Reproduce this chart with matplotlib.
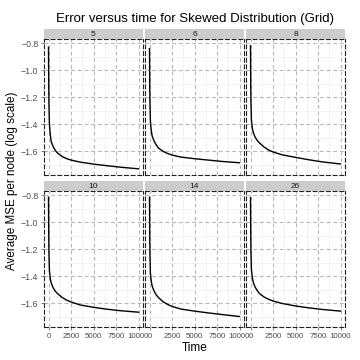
import matplotlib
matplotlib.use("Agg")
import matplotlib.pyplot as plt
import numpy as np

plt.rcParams["font.family"] = ["Liberation Sans", "DejaVu Sans"]

# facet labels (number of nodes) and sampled time points
facets = ["5", "6", "8", "10", "14", "26"]
times = [0, 25, 50, 100, 200, 300, 500, 750, 1000, 1500, 2000, 2500,
         3500, 5000, 6500, 8000, 10000]

# log10 of average MSE per node
mse_5 = [-0.83, -1.10, -1.25, -1.40, -1.48, -1.53, -1.565, -1.595, -1.615,
         -1.640, -1.656, -1.667, -1.682, -1.697, -1.709, -1.720, -1.732]
mse_6 = [-0.84, -1.10, -1.24, -1.38, -1.45, -1.49, -1.525, -1.555, -1.578,
         -1.602, -1.618, -1.630, -1.645, -1.657, -1.667, -1.677, -1.687]
mse_8 = [-0.82, -1.09, -1.24, -1.37, -1.43, -1.46, -1.495, -1.522, -1.540,
         -1.570, -1.592, -1.607, -1.628, -1.647, -1.665, -1.681, -1.696]
mse_10 = [-0.815, -1.08, -1.23, -1.36, -1.42, -1.45, -1.485, -1.512, -1.530,
          -1.558, -1.578, -1.592, -1.614, -1.632, -1.646, -1.657, -1.668]
mse_14 = [-0.815, -1.09, -1.24, -1.38, -1.44, -1.475, -1.51, -1.54, -1.56,
          -1.59, -1.61, -1.625, -1.645, -1.660, -1.673, -1.685, -1.700]
mse_26 = [-0.817, -1.07, -1.22, -1.35, -1.41, -1.445, -1.48, -1.508, -1.530,
          -1.555, -1.572, -1.585, -1.603, -1.622, -1.636, -1.648, -1.660]
series = [mse_5, mse_6, mse_8, mse_10, mse_14, mse_26]

x_ticks = [0, 2500, 5000, 7500, 10000]
y_ticks = [-0.8, -1.0, -1.2, -1.4, -1.6]
y_labels = ["\u22120.8", "\u22121.0", "\u22121.2", "\u22121.4", "\u22121.6"]

W = H = 360
fig = plt.figure(figsize=(3.6, 3.6), dpi=100)

col_x = [44, 145, 246]
col_w = 99
row_strip = [29, 181]
strip_h = 10
row_panel = [39, 191]
panel_h = 136

all_y = np.concatenate([np.array(s) for s in series])
span = all_y.max() - all_y.min()
ylim = (all_y.min() - 0.05 * span, all_y.max() + 0.05 * span)
xlim = (-500, 10500)

dash = (0, (3.5, 2.5))
tick_col = "#4D4D4D"

for i, (lab, vals) in enumerate(zip(facets, series)):
    r, c = divmod(i, 3)
    x0 = col_x[c]
    ax = fig.add_axes([x0 / W, 1 - (row_panel[r] + panel_h) / H,
                       col_w / W, panel_h / H])
    ax.plot(times, vals, color="black", lw=1.0, zorder=3)
    ax.set_xlim(*xlim)
    ax.set_ylim(*ylim)
    ax.set_xticks(x_ticks)
    ax.set_yticks(y_ticks)
    ax.set_yticklabels(y_labels)
    ax.set_xticks([1250, 3750, 6250, 8750], minor=True)
    ax.set_yticks([-0.9, -1.1, -1.3, -1.5, -1.7], minor=True)
    ax.grid(which="minor", color="#F0F0F0", lw=0.6, ls="-", zorder=0)
    ax.grid(which="major", color="#B8B8B8", lw=0.8, ls=dash, zorder=1)
    for sp in ax.spines.values():
        sp.set_linestyle(dash)
        sp.set_linewidth(0.8)
        sp.set_color("#222222")
    ax.tick_params(which="minor", length=0)
    ax.tick_params(which="major", length=2.5, width=0.5, color=tick_col,
                   labelcolor=tick_col, pad=1.5)
    ax.tick_params(axis="y", labelsize=6.3)
    ax.tick_params(axis="x", labelsize=5.7)
    if c != 0:
        ax.tick_params(axis="y", left=False, labelleft=False)
    if r == 0:
        ax.tick_params(axis="x", bottom=False, labelbottom=False)

    sax = fig.add_axes([x0 / W, 1 - (row_strip[r] + strip_h) / H,
                        col_w / W, strip_h / H])
    sax.set_facecolor("#CCCCCC")
    sax.set_xticks([])
    sax.set_yticks([])
    for sp in sax.spines.values():
        sp.set_visible(False)
    sax.text(0.5, 0.5, lab, ha="center", va="center", fontsize=6,
             color="#1A1A1A", transform=sax.transAxes)

fig.text(195 / W, 1 - 19 / H, "Error versus time for Skewed Distribution (Grid)",
         ha="center", va="center", fontsize=9.5)
fig.text(195 / W, 1 - 348 / H, "Time", ha="center", va="center", fontsize=8.5)
fig.text(12 / W, 1 - 181 / H, "Average MSE per node (log scale)", ha="center",
         va="center", rotation=90, fontsize=8.4)

fig.savefig("out.png", dpi=100)
